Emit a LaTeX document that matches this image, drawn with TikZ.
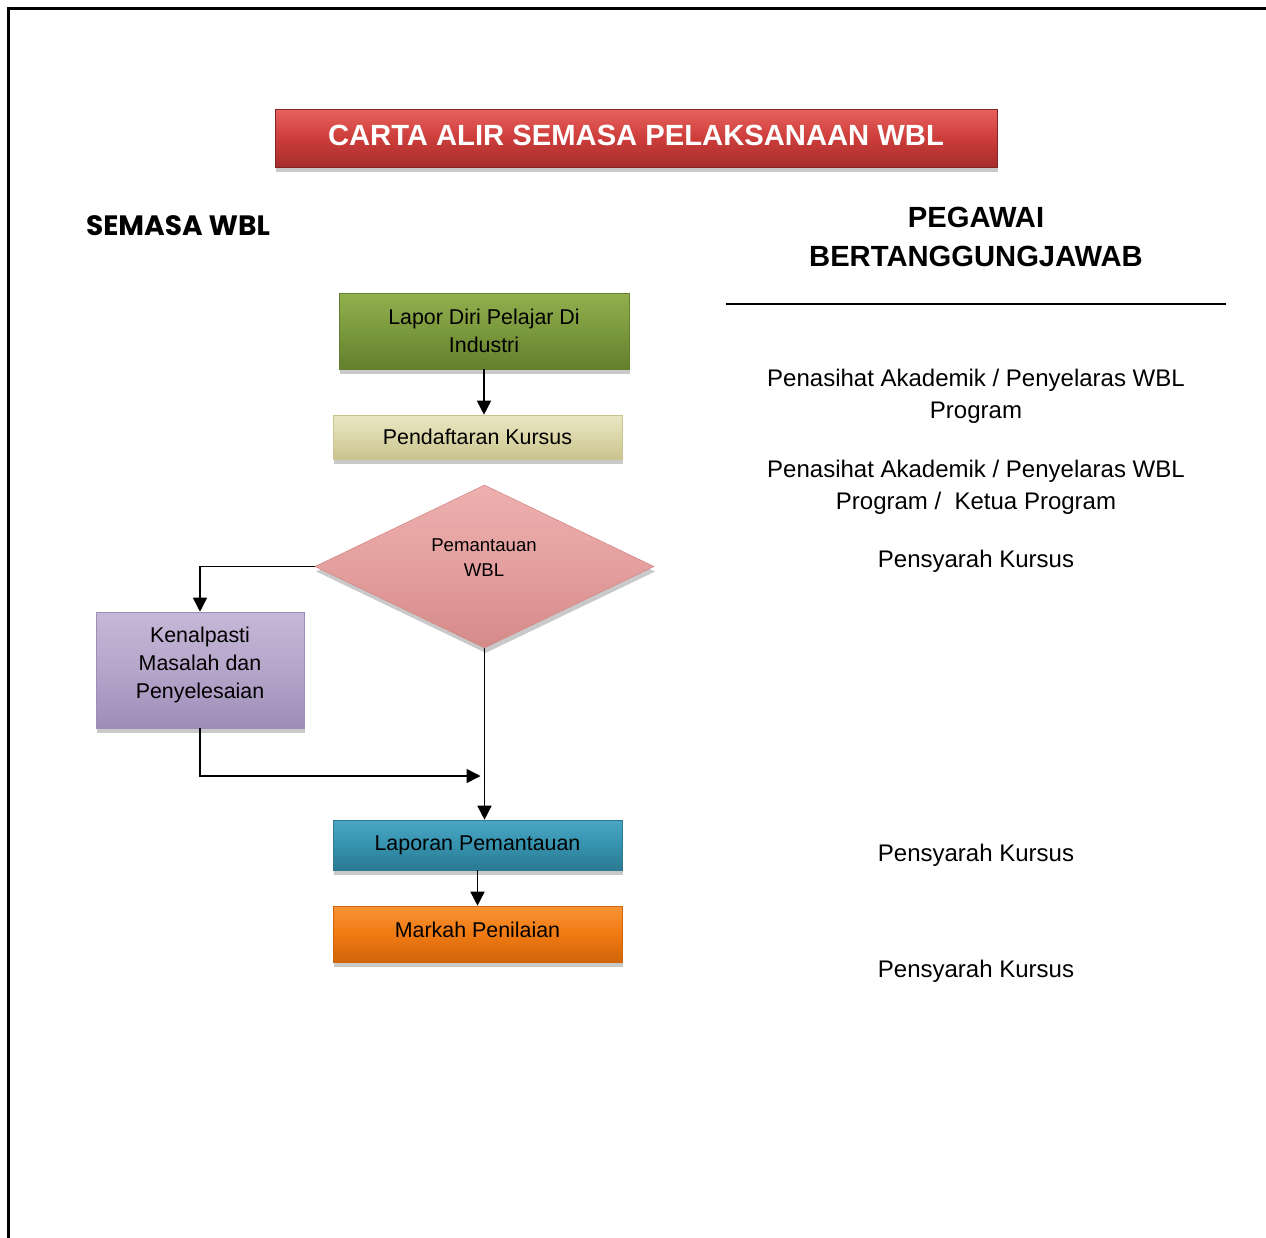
\documentclass[tikz,border=0pt]{standalone}
\usepackage{fontspec}
\setmainfont{Liberation Sans}
\newfontfamily\gothicfont{Poppins}
\usetikzlibrary{shapes.geometric,arrows.meta,shadows}
\definecolor{redtop}{HTML}{E8625E}
\definecolor{redmid}{HTML}{CC3D3A}
\definecolor{redbot}{HTML}{A52E2C}
\definecolor{grntop}{HTML}{93B04F}
\definecolor{grnmid}{HTML}{7A983C}
\definecolor{grnbot}{HTML}{647F2E}
\definecolor{tantop}{HTML}{E9E6C4}
\definecolor{tanmid}{HTML}{DCD7A8}
\definecolor{tanbot}{HTML}{C9C38E}
\definecolor{pnktop}{HTML}{EDB0AF}
\definecolor{pnkmid}{HTML}{E49F9E}
\definecolor{pnkbot}{HTML}{D48A89}
\definecolor{lavtop}{HTML}{C6B8D8}
\definecolor{lavmid}{HTML}{B5A5CA}
\definecolor{lavbot}{HTML}{9F8DB8}
\definecolor{tealtop}{HTML}{4AA7C3}
\definecolor{tealmid}{HTML}{3692AE}
\definecolor{tealbot}{HTML}{2A7990}
\definecolor{orgtop}{HTML}{F89436}
\definecolor{orgmid}{HTML}{F07A12}
\definecolor{orgbot}{HTML}{D0650A}
\tikzset{
  softshadow/.style={drop shadow={shadow xshift=0.6pt, shadow yshift=-2.5pt, opacity=0.3, fill=black!70}},
  boxbase/.style={rectangle, inner sep=0pt, align=center, text=black,
    font=\fontsize{10.7}{14}\selectfont, softshadow},
  arr/.style={draw=black, line width=0.8pt, -{Triangle[width=7pt,length=7pt]}},
  bodytext/.style={align=center, font=\fontsize{12}{15.75}\selectfont, inner sep=0pt},
}
\begin{document}
\begin{tikzpicture}[x=0.5pt,y=-0.5pt]
\useasboundingbox (0,0) rectangle (1266,1238);
% page border
\draw[line width=1.6pt] (8.5,1250) -- (8.5,8.5) -- (1280,8.5);

% title bar
\node[boxbase, minimum width=361pt, minimum height=29pt,
  top color=redtop, bottom color=redbot, middle color=redmid,
  draw=redbot!80!black, line width=0.3pt, text depth=3pt,
  text=white, font=\bfseries\fontsize{14.6}{17}\selectfont] (title) at (636,138)
  {CARTA ALIR SEMASA PELAKSANAAN WBL};

% headings
\node[font=\gothicfont\bfseries\fontsize{14}{17}\selectfont, inner sep=0pt] (semasa) at (178,226) {SEMASA WBL};
\node[align=center, font=\bfseries\fontsize{14.6}{19.5}\selectfont, inner sep=0pt] (pegawai) at (976,236.5) {PEGAWAI\\BERTANGGUNGJAWAB};
\coordinate (hl) at (726,304);
\coordinate (hr) at (1226,304);
\draw[line width=0.6pt] (hl) -- (hr);

% flow nodes
\node[boxbase, minimum width=145pt, minimum height=38pt,
  top color=grntop, bottom color=grnbot, middle color=grnmid, draw=grnbot, line width=0.3pt] (lapor) at (484,331)
  {Lapor Diri Pelajar Di\\Industri};
\node[boxbase, minimum width=144.5pt, minimum height=22pt,
  top color=tantop, bottom color=tanbot, middle color=tanmid, draw=tanbot, line width=0.3pt] (pend) at (477.5,437)
  {Pendaftaran Kursus};
\node[diamond, inner sep=0pt, minimum width=169.5pt, minimum height=81.5pt, aspect=2.08,
  top color=pnktop, bottom color=pnkbot, middle color=pnkmid, draw=pnkbot, line width=0.3pt,
  softshadow] (dia) at (484.5,566.5) {};
\node[align=center, inner sep=0pt, font=\fontsize{9.3}{12.5}\selectfont] (diatext) at (484,557.5) {Pemantauan\\WBL};
\node[boxbase, minimum width=104pt, minimum height=58pt, text depth=7.5pt,
  top color=lavtop, bottom color=lavbot, middle color=lavmid, draw=lavbot, line width=0.3pt] (ken) at (200,670)
  {Kenalpasti\\Masalah dan\\Penyelesaian};
\node[boxbase, minimum width=144.5pt, minimum height=25pt,
  top color=tealtop, bottom color=tealbot, middle color=tealmid, draw=tealbot, line width=0.3pt] (lap) at (477.5,845)
  {Laporan Pemantauan};
\node[boxbase, minimum width=144.5pt, minimum height=28pt, text depth=4pt,
  top color=orgtop, bottom color=orgbot, middle color=orgmid, draw=orgbot, line width=0.3pt] (mark) at (477.5,934)
  {Markah Penilaian};

% connectors
\draw[arr] (lapor.south) -- (lapor.south |- pend.north);
\draw[arr] (dia.west) -| (ken.north);
\draw[arr] (dia.south) -- (dia.south |- lap.north);
\coordinate (j) at (484.5,776);
\draw[arr, shorten >=2pt] (ken.south) |- (j);
\draw[arr] (lap.south) -- (mark.north);

% responsible officers
\node[bodytext] (r1) at (976,396.5) {Penasihat Akademik / Penyelaras WBL\\Program};
\node[bodytext] (r2) at (976,487.5) {Penasihat Akademik / Penyelaras WBL\\Program /\ \ Ketua Program};
\node[bodytext] (r3) at (976,561) {Pensyarah Kursus};
\node[bodytext] (r4) at (976,855) {Pensyarah Kursus};
\node[bodytext] (r5) at (976,971) {Pensyarah Kursus};
\end{tikzpicture}
\end{document}
